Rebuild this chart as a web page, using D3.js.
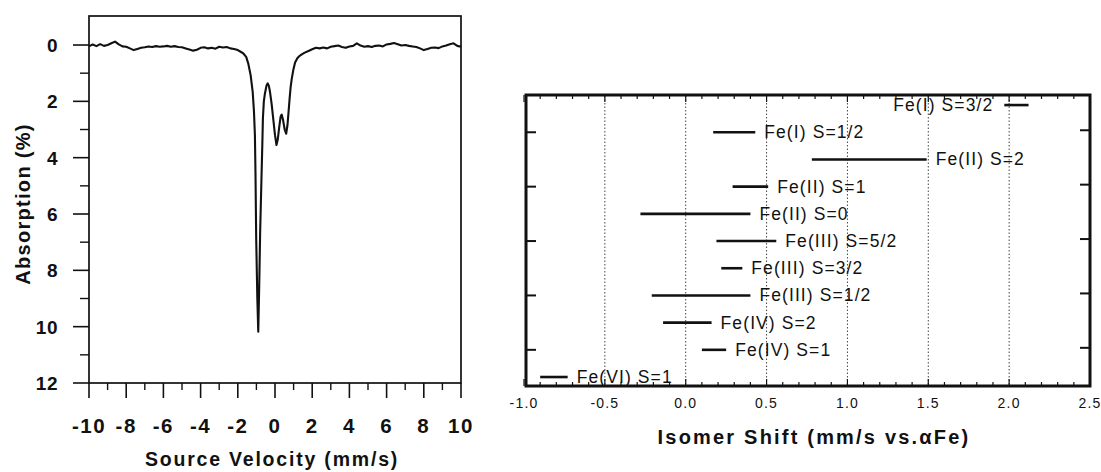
<!DOCTYPE html>
<html>
<head>
<meta charset="utf-8">
<script src="https://cdn.jsdelivr.net/npm/d3@7"></script>
<style>
  body { margin: 0; background: #fff; }
  svg { display: block; }
  text { font-family: "Liberation Sans", Arial, sans-serif; fill: #111; }
</style>
</head>
<body>
<div id="chart"></div>
<script>
// Mossbauer spectrum (left panel)
const velocity = [
  -10, -9.8, -9.6, -9.4, -9.2, -9.0, -8.8, -8.6, -8.4, -8.2, -8.0, -7.8, -7.6, -7.4, -7.2, -7.0,
  -6.8, -6.6, -6.4, -6.2, -6.0, -5.8, -5.6, -5.4, -5.2, -5.0, -4.8, -4.6, -4.4, -4.2, -4.0,
  -3.8, -3.6, -3.4, -3.2, -3.0, -2.8, -2.6, -2.4, -2.2, -2.0, -1.85, -1.7, -1.55, -1.44,
  -1.31, -1.2, -1.13, -1.08, -1.05, -1.01, -0.95, -0.90, -0.85, -0.80, -0.73, -0.68, -0.65,
  -0.60, -0.54, -0.46, -0.39, -0.33, -0.27, -0.18, -0.09, 0.0, 0.08, 0.15, 0.22, 0.30, 0.36,
  0.43, 0.52, 0.60, 0.67, 0.72, 0.78, 0.84, 0.90, 0.98, 1.08, 1.2, 1.3, 1.44, 1.6, 1.8, 2.0,
  2.2, 2.4, 2.6, 2.8, 3.0, 3.2, 3.4, 3.6, 3.8, 4.0, 4.2, 4.4, 4.6, 4.8, 5.0, 5.2, 5.4, 5.6,
  5.8, 6.0, 6.2, 6.4, 6.6, 6.8, 7.0, 7.2, 7.4, 7.6, 7.8, 8.0, 8.2, 8.4, 8.6, 8.8, 9.0, 9.2,
  9.4, 9.6, 9.8, 10.0
];
const absorption = [
  0.05, -0.02, 0.04, -0.03, 0.03, 0.00, -0.06, -0.12, -0.02, 0.05, 0.06, 0.12, 0.18, 0.14, 0.10, 0.08,
  0.05, 0.07, 0.04, 0.06, 0.05, 0.03, 0.06, 0.04, 0.07, 0.08, 0.12, 0.16, 0.20, 0.17, 0.10,
  0.08, 0.12, 0.10, 0.13, 0.06, 0.09, 0.07, 0.12, 0.14, 0.18, 0.24, 0.30, 0.42, 0.65,
  1.07, 1.66, 2.37, 3.2, 4.5, 6.9, 9.0, 10.18, 8.6, 6.7, 4.8, 3.5, 2.6,
  2.0, 1.72, 1.45, 1.36, 1.45, 1.66, 2.1, 2.65, 3.2, 3.55, 3.35, 2.95, 2.55, 2.47,
  2.65, 3.0, 3.15, 2.85, 2.45, 1.95, 1.5, 1.2, 0.9, 0.62, 0.47, 0.40, 0.33, 0.27, 0.21, 0.15,
  0.10, 0.12, 0.09, 0.12, 0.06, 0.04, 0.02, 0.07, 0.10, 0.05, 0.03, -0.06, 0.02, 0.06, 0.04, 0.07, 0.03, 0.02,
  0.05, -0.02, -0.04, -0.07, -0.03, 0.02, 0.00, 0.03, 0.05, 0.07, 0.12, 0.18, 0.14, 0.10, 0.09, 0.11, 0.05, 0.02,
  -0.03, -0.06, 0.03, 0.06
];
const velTicks = [-10, -8, -6, -4, -2, 0, 2, 4, 6, 8, 10];
const absTicks = [0, 2, 4, 6, 8, 10, 12];

// Isomer shift ranges (right panel)
const states = ["Fe(I) S=3/2", "Fe(I) S=1/2", "Fe(II) S=2", "Fe(II) S=1", "Fe(II) S=0",
  "Fe(III) S=5/2", "Fe(III) S=3/2", "Fe(III) S=1/2", "Fe(IV) S=2", "Fe(IV) S=1", "Fe(VI) S=1"];
const shiftLow  = [1.97, 0.17, 0.78, 0.29, -0.28, 0.19, 0.22, -0.21, -0.14, 0.10, -0.90];
const shiftHigh = [2.12, 0.43, 1.49, 0.51, 0.40, 0.56, 0.35, 0.40, 0.16, 0.25, -0.73];
const labelSide = ["left", "right", "right", "right", "right", "right", "right", "right", "right", "right", "right"];
const shiftTicks = [-1.0, -0.5, 0.0, 0.5, 1.0, 1.5, 2.0, 2.5];
const gridShifts = [-0.5, 0.0, 0.5, 1.0, 1.5, 2.0];

const svg = d3.select("#chart").append("svg")
  .attr("width", 1101)
  .attr("height", 472);

// ---------- left panel ----------
const x1 = d3.scaleLinear().domain([-10, 10]).range([89, 461]);
const y1 = d3.scaleLinear().domain([-1.03, 12]).range([16, 383]);

const left = svg.append("g");

left.append("rect")
  .attr("x", x1.range()[0]).attr("y", 16)
  .attr("width", x1.range()[1] - x1.range()[0]).attr("height", 383 - 16)
  .attr("fill", "none").attr("stroke", "#111").attr("stroke-width", 1.7);

// y ticks (outward)
const yMinor = d3.range(1, 12, 2);
left.selectAll(".ymaj").data(absTicks).enter().append("line")
  .attr("x1", 73).attr("x2", 89)
  .attr("y1", d => y1(d)).attr("y2", d => y1(d))
  .attr("stroke", "#111").attr("stroke-width", 1.6);
left.selectAll(".ymin").data(yMinor).enter().append("line")
  .attr("x1", 80).attr("x2", 89)
  .attr("y1", d => y1(d)).attr("y2", d => y1(d))
  .attr("stroke", "#111").attr("stroke-width", 1.4);
left.selectAll(".ylab").data(absTicks).enter().append("text")
  .attr("x", 58).attr("y", d => y1(d) + 7)
  .attr("text-anchor", "end")
  .style("font-size", "19px").style("font-weight", "bold").style("letter-spacing", "0.5px")
  .text(d => d);

// x ticks (outward)
const xMinor = d3.range(-9, 10, 2);
left.selectAll(".xmaj").data(velTicks).enter().append("line")
  .attr("x1", d => x1(d)).attr("x2", d => x1(d))
  .attr("y1", 383).attr("y2", 398)
  .attr("stroke", "#111").attr("stroke-width", 1.6);
left.selectAll(".xmin").data(xMinor).enter().append("line")
  .attr("x1", d => x1(d)).attr("x2", d => x1(d))
  .attr("y1", 383).attr("y2", 390)
  .attr("stroke", "#111").attr("stroke-width", 1.4);
left.selectAll(".xlab").data(velTicks).enter().append("text")
  .attr("x", d => x1(d)).attr("y", 433)
  .attr("text-anchor", "middle")
  .style("font-size", "20.5px").style("font-weight", "bold").style("letter-spacing", "1.5px")
  .text(d => d);

left.append("text")
  .attr("x", 272).attr("y", 466)
  .attr("text-anchor", "middle")
  .style("font-size", "19.5px").style("font-weight", "bold").style("letter-spacing", "1.8px")
  .text("Source Velocity (mm/s)");

left.append("text")
  .attr("transform", "translate(30,204) rotate(-90)")
  .attr("text-anchor", "middle")
  .style("font-size", "20px").style("font-weight", "bold").style("letter-spacing", "1.3px")
  .text("Absorption (%)");

const spectrum = velocity.map((v, i) => [v, absorption[i]]);
left.append("path")
  .datum(spectrum)
  .attr("fill", "none")
  .attr("stroke", "#111")
  .attr("stroke-width", 2.1)
  .attr("stroke-linejoin", "round")
  .attr("d", d3.line().x(d => x1(d[0])).y(d => y1(d[1])));

// ---------- right panel ----------
const x2 = d3.scaleLinear().domain([-1, 2.5]).range([524, 1090]);
const y2 = d3.scaleLinear().domain([-0.37, 10.33]).range([95, 386]);

const right = svg.append("g");

right.selectAll(".grid").data(gridShifts).enter().append("line")
  .attr("x1", d => x2(d)).attr("x2", d => x2(d))
  .attr("y1", 96).attr("y2", 385)
  .attr("stroke", "#444").attr("stroke-width", 1)
  .attr("stroke-dasharray", "1.5,2");

// minor / major ticks on top and bottom (inward)
const minorShift = d3.range(-10, 26).map(d => d / 10);
right.selectAll(".bmin").data(minorShift).enter().append("line")
  .attr("x1", d => x2(d)).attr("x2", d => x2(d))
  .attr("y1", 386).attr("y2", d => Math.round(d * 10) % 5 === 0 ? 379 : 382)
  .attr("stroke", "#111").attr("stroke-width", 1.2);
right.selectAll(".tmin").data(minorShift).enter().append("line")
  .attr("x1", d => x2(d)).attr("x2", d => x2(d))
  .attr("y1", 95).attr("y2", d => Math.round(d * 10) % 5 === 0 ? 102 : 99)
  .attr("stroke", "#111").attr("stroke-width", 1.2);

// y ticks, every second row, on both sides (inward)
const rowTicks = [1, 3, 5, 7, 9];
right.selectAll(".lt").data(rowTicks).enter().append("line")
  .attr("x1", 526).attr("x2", 536)
  .attr("y1", d => y2(d)).attr("y2", d => y2(d))
  .attr("stroke", "#111").attr("stroke-width", 2);
right.selectAll(".rt").data(rowTicks).enter().append("line")
  .attr("x1", 1080).attr("x2", 1090)
  .attr("y1", d => y2(d) - 2).attr("y2", d => y2(d) - 2)
  .attr("stroke", "#111").attr("stroke-width", 2);

right.append("rect")
  .attr("x", 526).attr("y", 95)
  .attr("width", 1090 - 526).attr("height", 386 - 95)
  .attr("fill", "none").attr("stroke", "#111").attr("stroke-width", 3);

// bars and labels
const rows = states.map((s, i) => ({ name: s, lo: shiftLow[i], hi: shiftHigh[i], side: labelSide[i], row: i }));
right.selectAll(".bar").data(rows).enter().append("line")
  .attr("x1", d => x2(d.lo)).attr("x2", d => x2(d.hi))
  .attr("y1", d => y2(d.row)).attr("y2", d => y2(d.row))
  .attr("stroke", "#111").attr("stroke-width", 2.6);
right.selectAll(".blab").data(rows).enter().append("text")
  .attr("x", d => d.side === "left" ? x2(d.lo) - 11 : x2(d.hi) + 9)
  .attr("y", d => y2(d.row) + 6)
  .attr("text-anchor", d => d.side === "left" ? "end" : "start")
  .style("font-size", "17.5px").style("letter-spacing", "1.1px")
  .text(d => d.name);

right.selectAll(".xlab").data(shiftTicks).enter().append("text")
  .attr("x", d => x2(d)).attr("y", 408)
  .attr("text-anchor", "middle")
  .style("font-size", "14px").style("letter-spacing", "1.2px")
  .text(d => d.toFixed(1));

right.append("text")
  .attr("x", 814).attr("y", 444)
  .attr("text-anchor", "middle")
  .style("font-size", "20px").style("font-weight", "bold").style("letter-spacing", "2.2px")
  .text("Isomer Shift (mm/s vs.\u03b1Fe)");
</script>
</body>
</html>
